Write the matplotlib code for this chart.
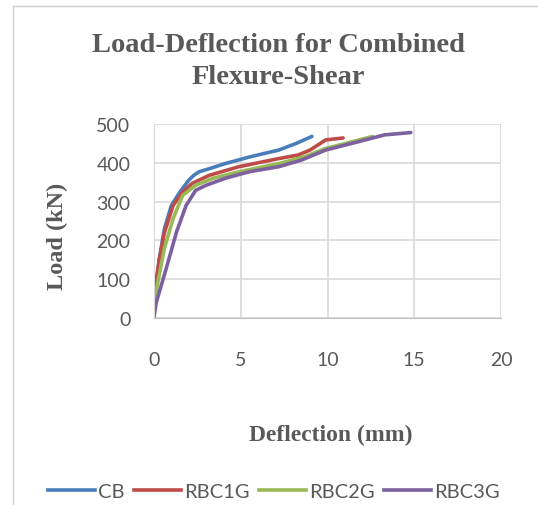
import matplotlib.pyplot as plt
from matplotlib.lines import Line2D

# data
cb_x = [0, 0.3, 0.6, 1.0, 1.5, 2.0, 2.3, 2.6, 3.2, 4.1, 5.5, 7.2, 8.2, 9.1]
cb_y = [50, 150, 230, 290, 325, 355, 368, 377, 385, 398, 415, 433, 450, 468]

rbc1g_x = [0, 0.3, 0.6, 1.1, 1.65, 2.2, 3.2, 4.9, 7.2, 8.3, 9.0, 9.9, 10.9]
rbc1g_y = [55, 150, 220, 290, 325, 347, 368, 390, 411, 420, 433, 459, 464]

rbc2g_x = [0, 0.3, 0.6, 1.1, 1.65, 2.4, 3.4, 4.9, 7.2, 8.7, 9.9, 11.4, 12.6]
rbc2g_y = [40, 110, 180, 256, 316, 342, 360, 377, 398, 416, 437, 454, 468]

rbc3g_x = [0, 0.13, 0.7, 1.3, 1.85, 2.4, 3.0, 4.1, 5.5, 7.2, 8.5, 9.9, 11.4, 13.3, 14.8]
rbc3g_y = [2, 40, 127, 222, 290, 329, 342, 360, 377, 390, 407, 433, 450, 472, 478]

series = [
    ("CB", cb_x, cb_y, "#4a7ebb"),
    ("RBC1G", rbc1g_x, rbc1g_y, "#be4b48"),
    ("RBC2G", rbc2g_x, rbc2g_y, "#98b954"),
    ("RBC3G", rbc3g_x, rbc3g_y, "#7d60a0"),
]

x_ticks = [0, 5, 10, 15, 20]
y_ticks = [0, 100, 200, 300, 400, 500]

grey = "#595959"
W, H = 538, 506

fig = plt.figure(figsize=(W / 100, H / 100), dpi=100)
ax = fig.add_axes([154 / W, 1 - 319 / H, (501 - 154) / W, (319 - 125) / H])

for name, xs, ys, col in series:
    ax.plot(xs, ys, color=col, lw=2.6, solid_capstyle="round", label=name)

ax.set_xlim(0, 20)
ax.set_ylim(0, 500)
ax.set_xticks(x_ticks)
ax.set_yticks(y_ticks)
ax.grid(True, color="#d9d9d9", lw=1.2)
ax.set_axisbelow(True)
for s in ["top", "right"]:
    ax.spines[s].set_visible(False)
ax.spines["left"].set_color("#d9d9d9")
ax.spines["bottom"].set_color("#bfbfbf")
ax.tick_params(length=0, labelsize=14, colors=grey)
for lab in ax.get_xticklabels() + ax.get_yticklabels():
    lab.set_family("Lato")
ax.tick_params(axis="x", pad=24)
ax.tick_params(axis="y", pad=17)

serif = "Liberation Serif"
fig.text(278 / W, 1 - 45 / H, "Load-Deflection for Combined", ha="center", va="center",
         fontsize=20.5, fontweight="bold", family=serif, color=grey)
fig.text(278 / W, 1 - 78 / H, "Flexure-Shear", ha="center", va="center",
         fontsize=20.5, fontweight="bold", family=serif, color=grey)
fig.text(57 / W, 1 - 236 / H, "Load (kN)", ha="center", va="center", rotation=90,
         fontsize=17.5, fontweight="bold", family=serif, color=grey)
fig.text(331 / W, 1 - 435 / H, "Deflection (mm)", ha="center", va="center",
         fontsize=17, fontweight="bold", family=serif, color=grey)

handles = [Line2D([], [], color=c, lw=2.6) for _, _, _, c in series]
leg = fig.legend(handles, [s[0] for s in series], loc="center", ncol=4,
                 bbox_to_anchor=(274 / W, 1 - 492 / H), frameon=False,
                 handlelength=2.35, handletextpad=0.15, columnspacing=0.45,
                 prop={"family": "Lato", "size": 14.5})
for t in leg.get_texts():
    t.set_color(grey)

# chart border (left and top edges visible)
fig.add_artist(Line2D([13 / W, 13 / W], [0, 1 - 7 / H], color="#d0d0d0", lw=1))
fig.add_artist(Line2D([13 / W, 1], [1 - 7 / H, 1 - 7 / H], color="#d0d0d0", lw=1))

fig.savefig("out.png", dpi=100)
